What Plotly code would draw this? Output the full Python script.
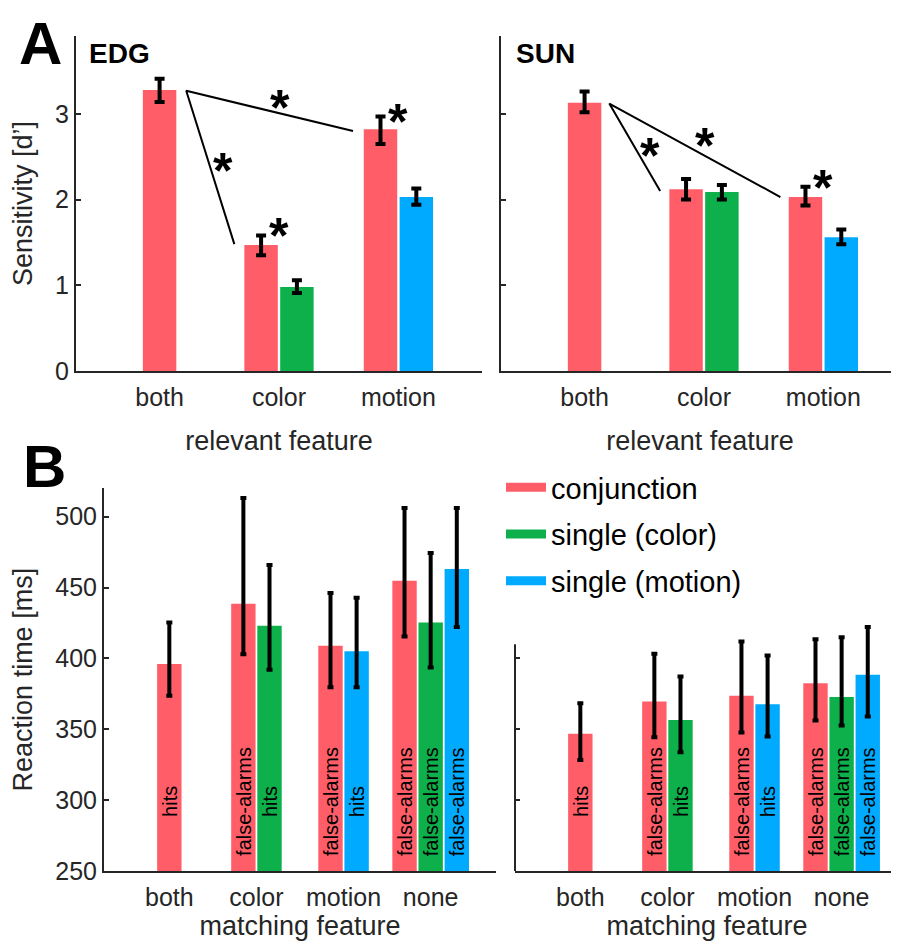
import plotly.graph_objects as go

# The page body has an 8px default margin, so the figure is 8px smaller
# and all reference pixel positions are shifted by OFF.
OFF = 8
W, H = 899 - OFF, 949 - OFF
FONT = "Liberation Sans, Arial, Helvetica, sans-serif"
AXC = "#262626"


def fx(px):
    return (px - OFF) / W


def fy(px):
    return 1 - (px - OFF) / H


# ---------------- data ----------------
series_names = ["conjunction", "single (color)", "single (motion)"]
series_colors = ["#FF5E69", "#0DB04B", "#00AAFF"]

cats_A = ["both", "color", "motion"]
cats_B = ["both", "color", "motion", "none"]

# Panel A: sensitivity d' (mean, upper, lower)
edg_conj_mean = [3.28, 1.47, 2.82]
edg_conj_hi = [3.41, 1.58, 2.97]
edg_conj_lo = [3.14, 1.35, 2.65]
edg_color_mean = [None, 0.98, None]
edg_color_hi = [None, 1.06, None]
edg_color_lo = [None, 0.91, None]
edg_motion_mean = [None, None, 2.03]
edg_motion_hi = [None, None, 2.13]
edg_motion_lo = [None, None, 1.94]

sun_conj_mean = [3.13, 2.12, 2.03]
sun_conj_hi = [3.26, 2.24, 2.15]
sun_conj_lo = [3.02, 2.00, 1.93]
sun_color_mean = [None, 2.09, None]
sun_color_hi = [None, 2.17, None]
sun_color_lo = [None, 2.00, None]
sun_motion_mean = [None, None, 1.56]
sun_motion_hi = [None, None, 1.65]
sun_motion_lo = [None, None, 1.48]

# significance lines (x, y in data units) and stars
edg_sig_x = [2.62, 1.223, 1.626]
edg_sig_y = [2.80, 3.27, 1.48]
edg_star_x = [2.01, 1.53, 2.00, 3.00]
edg_star_y = [3.16, 2.43, 1.67, 3.00]
sun_sig_x = [2.64, 1.207, 1.633]
sun_sig_y = [2.03, 3.12, 2.10]
sun_star_x = [1.55, 2.01, 3.00]
sun_star_y = [2.60, 2.72, 2.23]

# Panel B: reaction time [ms] (mean, upper, lower)
rt1_conj_mean = [396.0, 438.6, 408.9, 454.8]
rt1_conj_hi = [425.4, 513.2, 446.1, 506.1]
rt1_conj_lo = [373.6, 403.0, 379.7, 415.5]
rt1_color_mean = [None, 423.0, None, 425.4]
rt1_color_hi = [None, 465.9, None, 474.3]
rt1_color_lo = [None, 392.0, None, 393.6]
rt1_motion_mean = [None, None, 405.1, 463.1]
rt1_motion_hi = [None, None, 442.8, 506.1]
rt1_motion_lo = [None, None, 379.7, 422.1]

rt2_conj_mean = [346.8, 369.6, 373.6, 382.5]
rt2_conj_hi = [368.4, 403.2, 411.9, 413.5]
rt2_conj_lo = [328.4, 344.4, 347.7, 356.1]
rt2_color_mean = [None, 356.6, None, 372.7]
rt2_color_hi = [None, 387.2, None, 414.9]
rt2_color_lo = [None, 333.8, None, 352.6]
rt2_motion_mean = [None, None, 367.7, 388.4]
rt2_motion_hi = [None, None, 402.0, 422.1]
rt2_motion_lo = [None, None, 344.9, 359.0]

resp_conj = ["hits", "false-alarms", "false-alarms", "false-alarms"]
resp_color = [None, "hits", None, "false-alarms"]
resp_motion = [None, None, "hits", "false-alarms"]

STEP, BW = 0.3, 0.28


def positions(series):
    ncat = len(series[0])
    pos = [[None] * ncat for _ in series]
    for c in range(ncat):
        present = [s for s in range(len(series)) if series[s][c] is not None]
        n = len(present)
        for k, s in enumerate(present):
            pos[s][c] = (c + 1) + (k - (n - 1) / 2) * STEP
    return pos


fig = go.Figure()
annotations = []


def add_panel(means, his, los, xa, ya, capw, labels=None, label_y=None):
    pos = positions(means)
    for s in range(len(means)):
        idx = [i for i, v in enumerate(means[s]) if v is not None]
        xs = [pos[s][i] for i in idx]
        ys = [means[s][i] for i in idx]
        up = [his[s][i] - means[s][i] for i in idx]
        dn = [means[s][i] - los[s][i] for i in idx]
        fig.add_trace(go.Bar(
            x=xs, y=ys, width=BW, marker=dict(color=series_colors[s], line=dict(width=0)),
            error_y=dict(type="data", symmetric=False, array=up, arrayminus=dn,
                         color="black", thickness=4, width=capw),
            xaxis=xa, yaxis=ya, showlegend=False, name=series_names[s]))
        if labels is not None:
            for i in idx:
                annotations.append(dict(
                    x=pos[s][i], y=label_y, xref=xa, yref=ya, text=labels[s][i],
                    textangle=-90, showarrow=False, font=dict(family=FONT, size=20, color="black")))


def add_sig(sx, sy, stx, sty, xa, ya):
    fig.add_trace(go.Scatter(x=sx, y=sy, mode="lines", line=dict(color="black", width=2),
                             xaxis=xa, yaxis=ya, showlegend=False, hoverinfo="skip"))
    for x, y in zip(stx, sty):
        annotations.append(dict(x=x, y=y, xref=xa, yref=ya, text="<b>*</b>", showarrow=False,
                                yshift=-8, font=dict(family=FONT, size=50, color="black")))


add_panel([edg_conj_mean, edg_color_mean, edg_motion_mean],
          [edg_conj_hi, edg_color_hi, edg_motion_hi],
          [edg_conj_lo, edg_color_lo, edg_motion_lo], "x", "y", 5)
add_sig(edg_sig_x, edg_sig_y, edg_star_x, edg_star_y, "x", "y")
add_panel([sun_conj_mean, sun_color_mean, sun_motion_mean],
          [sun_conj_hi, sun_color_hi, sun_motion_hi],
          [sun_conj_lo, sun_color_lo, sun_motion_lo], "x2", "y2", 5)
add_sig(sun_sig_x, sun_sig_y, sun_star_x, sun_star_y, "x2", "y2")
resp = [resp_conj, resp_color, resp_motion]
add_panel([rt1_conj_mean, rt1_color_mean, rt1_motion_mean],
          [rt1_conj_hi, rt1_color_hi, rt1_motion_hi],
          [rt1_conj_lo, rt1_color_lo, rt1_motion_lo], "x3", "y3", 3, resp, 299)
add_panel([rt2_conj_mean, rt2_color_mean, rt2_motion_mean],
          [rt2_conj_hi, rt2_color_hi, rt2_motion_hi],
          [rt2_conj_lo, rt2_color_lo, rt2_motion_lo], "x4", "y4", 3, resp, 299)

# legend entries
for s in range(3):
    fig.add_trace(go.Scatter(x=[None], y=[None], mode="lines", name=series_names[s],
                             line=dict(color=series_colors[s], width=9),
                             xaxis="x3", yaxis="y3", legendgroup=str(s)))

# panel letters and titles
for txt, x, y, size, anchor, yanc in [("A", 40, 8, 60, "center", "top"),
                                       ("B", 44, 431, 60, "center", "top"),
                                       ("EDG", 87, 53, 28, "left", "middle"),
                                       ("SUN", 514, 53, 28, "left", "middle")]:
    annotations.append(dict(x=fx(x), y=fy(y), xref="paper", yref="paper", text="<b>%s</b>" % txt,
                            showarrow=False, xanchor=anchor, yanchor=yanc,
                            font=dict(family=FONT, size=size, color="black")))


def xax(dom, rng, cats, title, standoff):
    return dict(domain=[fx(dom[0]), min(1.0, fx(dom[1]))], range=rng,
                tickvals=list(range(1, len(cats) + 1)),
                ticktext=cats, showline=True, linecolor=AXC, linewidth=2, ticks="",
                showgrid=False, zeroline=False, tickfont=dict(family=FONT, size=25, color=AXC),
                ticklabelstandoff=3, automargin=False,
                title=dict(text=title, font=dict(family=FONT, size=27, color=AXC), standoff=standoff))


def yax(dom, rng, tv, title, labels=True, line=True):
    return dict(domain=[fy(dom[1]), fy(dom[0])], range=rng, tickvals=tv,
                showline=line, linecolor=AXC, linewidth=2, ticks="inside", ticklen=5, tickwidth=2,
                tickcolor=AXC, showgrid=False, zeroline=False, showticklabels=labels,
                tickfont=dict(family=FONT, size=25, color=AXC), automargin=False,
                title=dict(text=title, font=dict(family=FONT, size=27, color=AXC)))


yA = [0, (371 - 36) / 85.7]
layout = dict(
    width=W, height=H, margin=dict(l=0, r=0, t=0, b=0, autoexpand=False),
    paper_bgcolor="white", plot_bgcolor="white", font=dict(family=FONT, color=AXC),
    barmode="overlay",
    xaxis=dict(xax((76, 482), [0.3, 3.7], cats_A, "relevant feature", 21), anchor="y"),
    yaxis=dict(yax((36, 371), yA, [0, 1, 2, 3], "Sensitivity [d’]"), anchor="x"),
    xaxis2=dict(xax((501, 899), [0.3, 0.3 + 398 / 119.4], cats_A, "relevant feature", 21), anchor="y2"),
    yaxis2=dict(yax((36, 371), yA, [0, 1, 2, 3], "", labels=False), anchor="x2"),
    xaxis3=dict(xax((104, 496), [0.25, 4.75], cats_B, "matching feature", 4), anchor="y3"),
    yaxis3=dict(yax((488.3, 871), [250, 520], [250, 300, 350, 400, 450, 500], "Reaction time [ms]"), anchor="x3"),
    xaxis4=dict(xax((515, 899), [0.25, 0.25 + 384 / 87.1], cats_B, "matching feature", 4), anchor="y4"),
    yaxis4=dict(yax((488.3, 871), [250, 520], [300, 350, 400], "", labels=False, line=False), anchor="x4"),
    showlegend=True,
    legend=dict(x=fx(501), y=fy(462), xanchor="left", yanchor="top", bgcolor="rgba(0,0,0,0)",
                font=dict(family=FONT, size=29, color="black"), tracegroupgap=6, itemwidth=40),
    annotations=annotations,
    shapes=[dict(type="line", xref="x4 domain", yref="y4", x0=0, x1=0, y0=250, y1=410,
                 line=dict(color=AXC, width=2))],
)
fig.update_layout(**layout)
fig.write_html("out.html")
